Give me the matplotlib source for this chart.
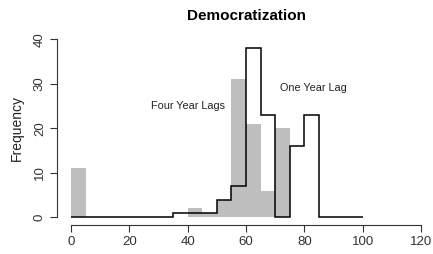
import numpy as np
import matplotlib
matplotlib.use("Agg")
import matplotlib.pyplot as plt

plt.rcParams['font.family'] = ['Liberation Sans', 'DejaVu Sans']

# histogram bins (width 5) and counts
bin_edges = list(range(0, 105, 5))
four_year_lags = [11, 0, 0, 0, 0, 0, 0, 0, 2, 1, 4, 31, 21, 6, 20, 0, 0, 0, 0, 0]
one_year_lag = [0, 0, 0, 0, 0, 0, 0, 1, 1, 1, 4, 7, 38, 23, 0, 16, 23, 0, 0, 0]
x_ticks = [0, 20, 40, 60, 80, 100, 120]
y_ticks = [0, 10, 20, 30, 40]

fig = plt.figure(figsize=(4.33, 2.54), dpi=100)
ax = fig.add_axes([57 / 433, (254 - 224.5) / 254, 378 / 433, (224.5 - 32) / 254])

# gray bars for the four year lags
ax.bar(bin_edges[:-1], four_year_lags, width=5, align='edge', color='#bebebe', edgecolor='none')
# black outline for the one year lag
ax.stairs(one_year_lag, bin_edges, color='black', linewidth=1.1, baseline=None)

ax.text(40, 25, 'Four Year Lags', ha='center', va='center', fontsize=7.8, color='#222222')
ax.text(83, 29, 'One Year Lag', ha='center', va='center', fontsize=7.8, color='#222222')

ax.set_xlim(-4.8, 124.8)
ax.set_ylim(-1.6, 41.6)
ax.set_xticks(x_ticks)
ax.set_yticks(y_ticks)
ax.set_yticklabels([str(v) for v in y_ticks], rotation=90, va='center')
ax.tick_params(axis='both', labelsize=9.5, length=5, width=0.8, colors='#333333')
ax.tick_params(axis='x', pad=3)
ax.tick_params(axis='y', pad=3)

for side in ['top', 'right']:
    ax.spines[side].set_visible(False)
ax.spines['left'].set_bounds(0, 40)
ax.spines['bottom'].set_bounds(0, 120)
ax.spines['left'].set_color('#333333')
ax.spines['bottom'].set_color('#333333')
ax.spines['left'].set_linewidth(0.8)
ax.spines['bottom'].set_linewidth(0.8)

ax.set_ylabel('Frequency', fontsize=10, labelpad=7, color='#222222')
ax.set_title('Democratization', fontsize=11, fontweight='bold', pad=9)

fig.savefig('out.png', dpi=100)
